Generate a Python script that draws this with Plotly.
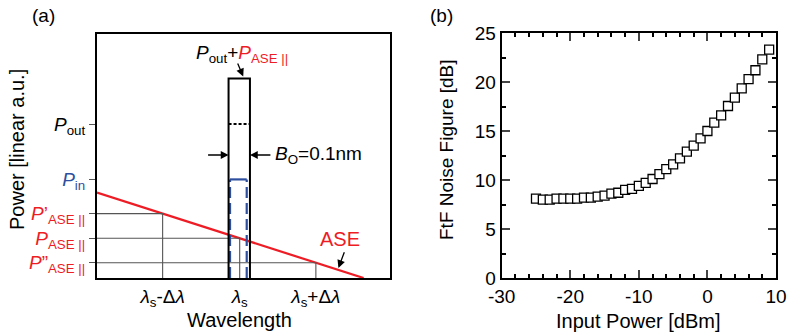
import plotly.graph_objects as go
import numpy as np

RED = "#ee1c25"
BLUE = "#2e4f9e"
GRAY = "#555555"
FONT = "Liberation Sans, Arial, sans-serif"

# ---------- panel (b) data ----------
input_power = list(range(-25, 10))
noise_figure = [8.1, 8.0, 8.0, 8.1, 8.1, 8.1, 8.1, 8.2, 8.2, 8.3,
                8.4, 8.6, 8.7, 9.0, 9.1, 9.4, 9.7, 10.1, 10.6, 11.1,
                11.6, 12.2, 12.9, 13.5, 14.25, 15.0, 15.85, 16.6, 17.55, 18.4,
                19.35, 20.3, 21.2, 22.3, 23.3]
xb_ticks = [-30, -20, -10, 0, 10]
xb_ticklabels = ["-30", "-20", "-10", "0", "10"]

# ---------- panel (a) schematic values (arbitrary linear units) ----------
ase_x = [0.0, 9.1]
ase_y = [3.5, 0.0]
lam_pos = [2.24, 4.87, 7.47]           # lambda_s - dl, lambda_s, lambda_s + dl
lam_labels = ["<i>λ</i><sub>s</sub>-Δ<i>λ</i>", "<i>λ</i><sub>s</sub>", "<i>λ</i><sub>s</sub>+Δ<i>λ</i>"]
filter_x = [4.49, 5.22]
filter_top = 8.18
pout_level = 6.31
pin_x = [4.54, 5.11]
pin_level = 4.04

ase_levels = list(np.interp(lam_pos, ase_x, ase_y))

fig = go.Figure()

common = dict(xaxis="x", yaxis="y", showlegend=False, hoverinfo="skip")
# ASE red line
fig.add_trace(go.Scatter(x=ase_x, y=ase_y, mode="lines", line=dict(color=RED, width=2.2), **common))
# gray guide lines
for lx, ly in zip(lam_pos, ase_levels):
    fig.add_trace(go.Scatter(x=[0, lx, lx], y=[ly, ly, 0], mode="lines",
                             line=dict(color=GRAY, width=1.1), **common))
# blue dashed input signal
for bx in pin_x:
    fig.add_trace(go.Scatter(x=[bx, bx], y=[0, pin_level], mode="lines",
                             line=dict(color=BLUE, width=2.2, dash="11px,5px"), **common))
fig.add_trace(go.Scatter(x=pin_x, y=[pin_level, pin_level], mode="lines",
                         line=dict(color=BLUE, width=2.2), **common))
# black filter rectangle
fig.add_trace(go.Scatter(x=[filter_x[0], filter_x[0], filter_x[1], filter_x[1]],
                         y=[0, filter_top, filter_top, 0], mode="lines",
                         line=dict(color="black", width=2), **common))
# dotted P_out level
fig.add_trace(go.Scatter(x=filter_x, y=[pout_level, pout_level], mode="lines",
                         line=dict(color="black", width=2, dash="3px,2px"), **common))

# ---------- panel (b) markers ----------
fig.add_trace(go.Scatter(x=input_power, y=noise_figure, mode="markers",
                         marker=dict(symbol="square", size=9, color="white",
                                     line=dict(color="black", width=1.3)),
                         xaxis="x2", yaxis="y2", showlegend=False))

W, H = 793, 332
def px(x): return x / W
def py(y): return (H - y) / H

ytick_vals = [ase_levels[2], ase_levels[1], ase_levels[0], pin_level, pout_level]
ytick_text = [
    f"<span style='color:{RED}'><i>P</i>”<sub>ASE ||</sub></span>",
    f"<span style='color:{RED}'><i>P</i><sub>ASE ||</sub></span>",
    f"<span style='color:{RED}'><i>P</i>’<sub>ASE ||</sub></span>",
    f"<span style='color:{BLUE}'><i>P</i><sub>in</sub></span>",
    "<i>P</i><sub>out</sub>",
]

fig.update_layout(
    template="none",
    width=W, height=H, margin=dict(l=0, r=0, t=0, b=0, pad=0, autoexpand=False),
    paper_bgcolor="white", plot_bgcolor="white",
    font=dict(family=FONT, size=18, color="black"),
    xaxis=dict(domain=[px(97), px(390)], range=[0, 10], showgrid=False, zeroline=False,
               showline=True, mirror=True, linecolor="black", linewidth=2, automargin=False,
               tickmode="array", tickvals=lam_pos, ticktext=lam_labels, ticks="",
               tickfont=dict(size=19), ticklabelstandoff=0),
    yaxis=dict(domain=[py(278), py(34)], range=[0, 10], showgrid=False, zeroline=False,
               showline=True, mirror=True, linecolor="black", linewidth=2, automargin=False,
               tickmode="array", tickvals=ytick_vals, ticktext=ytick_text,
               ticks="outside", ticklen=6, tickwidth=1.2, tickcolor=GRAY,
               tickfont=dict(size=19)),
    xaxis2=dict(domain=[px(501.7), px(776)], range=[-30, 10], showgrid=False, zeroline=False,
                showline=True, mirror="allticks", linecolor="black", linewidth=2, automargin=False,
                tickmode="array", tickvals=xb_ticks, ticktext=xb_ticklabels,
                ticks="inside", ticklen=8, tickwidth=2,
                minor=dict(tick0=-30, dtick=2, ticks="inside", ticklen=4, tickwidth=1.5, tickcolor="black"),
                tickfont=dict(size=19), ticklabelstandoff=0, anchor="y2"),
    yaxis2=dict(domain=[py(278), py(33)], range=[0, 25], showgrid=False, zeroline=False,
                showline=True, mirror="allticks", linecolor="black", linewidth=2, automargin=False,
                tickmode="linear", tick0=0, dtick=5, ticks="inside", ticklen=8, tickwidth=2,
                minor=dict(dtick=2.5, ticks="inside", ticklen=4, tickwidth=1.5, tickcolor="black"),
                tickfont=dict(size=19), anchor="x2"),
)

txt = dict(showarrow=False, xanchor="center", yanchor="middle")
ann = []
# panel labels
ann.append(dict(text="(a)", x=px(43), y=py(15), xref="paper", yref="paper", font=dict(size=19), **txt))
ann.append(dict(text="(b)", x=px(442), y=py(15), xref="paper", yref="paper", font=dict(size=19), **txt))
# axis titles
ann.append(dict(text="Power [linear a.u.]", x=px(17), y=py(150), xref="paper", yref="paper",
                textangle=-90, font=dict(size=20), **txt))
ann.append(dict(text="Wavelength", x=px(239), y=py(320), xref="paper", yref="paper",
                font=dict(size=20), **txt))
ann.append(dict(text="FtF Noise Figure [dB]", x=px(447), y=py(150), xref="paper", yref="paper",
                textangle=-90, font=dict(size=19), **txt))
ann.append(dict(text="Input Power [dBm]", x=px(638), y=py(321), xref="paper", yref="paper",
                font=dict(size=20), **txt))
# top label
ann.append(dict(text=f"<i>P</i><sub>out</sub>+<span style='color:{RED}'><i>P</i><sub>ASE ||</sub></span>",
                x=4.94, y=9.2, xref="x", yref="y", font=dict(size=19), **txt))
arrow = dict(xref="x", yref="y", axref="x", ayref="y", text="", showarrow=True,
             arrowhead=2, arrowsize=1.2, arrowwidth=1.3, arrowcolor="black")
ann.append(dict(x=4.99, y=8.26, ax=4.78, ay=8.85, **arrow))
# bandwidth arrows
ann.append(dict(x=filter_x[0], y=5.04, ax=3.74, ay=5.04, **arrow))
ann.append(dict(x=filter_x[1], y=5.04, ax=5.97, ay=5.04, **arrow))
ann.append(dict(text="<i>B</i><sub>O</sub>=0.1nm", x=6.0, y=5.04, xref="x", yref="y",
                showarrow=False, xanchor="left", yanchor="middle", font=dict(size=19)))
# ASE label
ann.append(dict(text="ASE", x=8.29, y=1.6, xref="x", yref="y", font=dict(size=20, color=RED), **txt))
ann.append(dict(x=8.24, y=0.41, ax=8.46, ay=1.12, **arrow))

fig.update_layout(annotations=ann)
fig.write_html("out.html", config={"displayModeBar": False},
               post_script="document.body.style.margin='0px';")
